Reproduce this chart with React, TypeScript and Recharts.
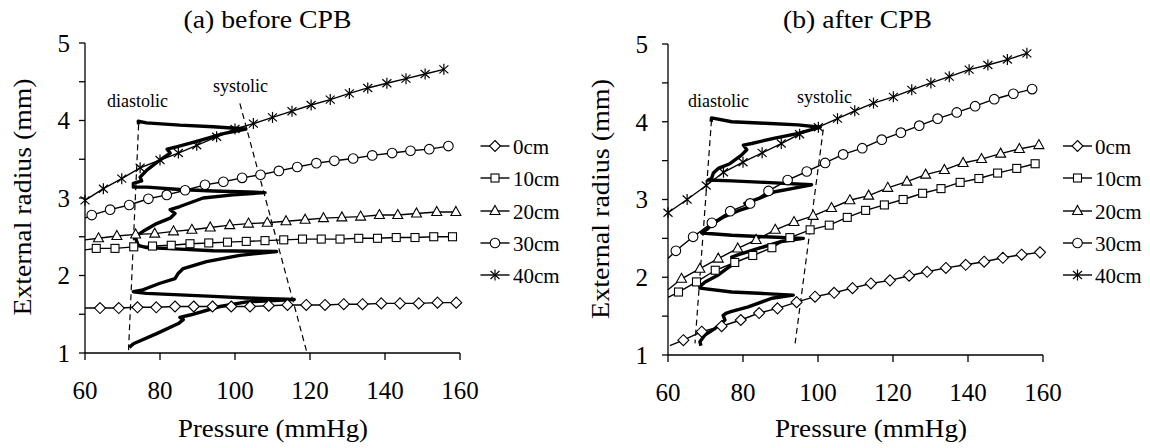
import React from "react";
import { LineChart, Line, XAxis, YAxis } from "recharts";

const FONT = "Liberation Serif, Times New Roman, serif";

const seriesNames = ["0cm", "10cm", "20cm", "30cm", "40cm"];
const shapes = ["diamond", "square", "triangle", "circle", "star"];
const xTicks = [60, 80, 100, 120, 140, 160];
const yTicks = [1, 1.5, 2, 2.5, 3, 3.5, 4, 4.5, 5];

// (a) before CPB
const presA0 = [64, 69, 74, 79, 84, 89, 94, 99, 104, 109, 114, 119, 124, 129, 134, 139, 144, 149, 154, 159];
const radA0 = [1.58, 1.58, 1.59, 1.59, 1.6, 1.6, 1.6, 1.6, 1.6, 1.61, 1.62, 1.62, 1.62, 1.63, 1.63, 1.64, 1.64, 1.64, 1.65, 1.65];
const presA10 = [63, 68, 73, 78, 83, 88, 93, 98, 103, 108, 113, 118, 123, 128, 133, 138, 143, 148, 153, 158];
const radA10 = [2.35, 2.35, 2.37, 2.38, 2.39, 2.41, 2.42, 2.43, 2.44, 2.45, 2.46, 2.47, 2.47, 2.47, 2.48, 2.48, 2.49, 2.49, 2.5, 2.5];
const presA20 = [63.6, 68.5, 73.5, 78.6, 83.6, 88.5, 93.4, 98.6, 103.6, 108.6, 113.6, 118.7, 123.6, 128.5, 133.5, 138.5, 143.4, 148.4, 153.8, 158.9];
const radA20 = [2.48, 2.51, 2.53, 2.54, 2.57, 2.59, 2.62, 2.65, 2.67, 2.68, 2.7, 2.72, 2.74, 2.75, 2.76, 2.78, 2.78, 2.8, 2.82, 2.82];
const presA30 = [61.8, 66.7, 71.8, 76.9, 81.8, 86.7, 92, 96.9, 101.9, 106.8, 111.7, 116.6, 121.7, 126.5, 131.5, 136.6, 141.9, 146.8, 151.8, 156.9];
const radA30 = [2.78, 2.85, 2.91, 2.99, 3.04, 3.1, 3.17, 3.21, 3.26, 3.3, 3.35, 3.4, 3.45, 3.48, 3.51, 3.55, 3.58, 3.61, 3.63, 3.67];
const presA40 = [60, 64.9, 69.8, 74.7, 80, 84.9, 89.8, 95.1, 100, 104.9, 110, 115.2, 120.3, 125.4, 130.5, 135.4, 140.5, 145.6, 150.7, 155.7];
const radA40 = [2.97, 3.12, 3.25, 3.39, 3.49, 3.58, 3.68, 3.79, 3.89, 3.96, 4.04, 4.12, 4.2, 4.27, 4.35, 4.42, 4.48, 4.54, 4.6, 4.66];
// where each line meets the y axis (no marker there)
const leadA: (number[] | null)[] = [[60, 1.58], [60, 2.33], [60, 2.46], [60, 2.74], null];

const loopPresA = [
  74.3, 74.2, 76.4, 85.3, 94.2, 102.9, 96.9, 89.8, 84.4, 81.9, 82.7, 80, 76.5, 74.7, 75.1,
  72.9, 72.9, 76.5, 85.3, 94.2, 108, 99.5, 91.5, 85.3, 82.7, 84, 82.7, 79.1, 75.5, 73.3, 73.8, 74.2,
  76.4, 85.3, 94.2, 111.1, 101.3, 92.4, 86.2, 84.9, 84, 80, 75.1, 72.9,
  76.4, 85.3, 94.2, 103.1, 115.8, 103.1, 96, 88, 85.3, 86.2, 84.9, 79.1, 72.9, 71.8,
];
const loopRadA = [
  3.95, 3.99, 3.97, 3.94, 3.92, 3.89, 3.83, 3.73, 3.66, 3.63, 3.58, 3.49, 3.36, 3.27, 3.22,
  3.19, 3.14, 3.14, 3.11, 3.09, 3.07, 3.04, 3.0, 2.89, 2.85, 2.8, 2.74, 2.67, 2.57, 2.5, 2.44, 2.39,
  2.36, 2.34, 2.32, 2.31, 2.26, 2.18, 2.09, 2.03, 1.96, 1.9, 1.81, 1.79,
  1.77, 1.75, 1.73, 1.71, 1.69, 1.66, 1.6, 1.49, 1.46, 1.43, 1.38, 1.25, 1.12, 1.07,
];
const diaPresA = [74.3, 71.6];
const diaRadA = [3.95, 1.03];
const sysPresA = [101.3, 119.1];
const sysRadA = [4.22, 1.02];

// (b) after CPB
const presB0 = [64.1, 69, 74.3, 79.4, 84.3, 89.2, 94.3, 99.2, 104.3, 109.2, 114.1, 119.2, 124.3, 129.1, 134.1, 139.4, 144.3, 149.3, 154.3, 159.2];
const radB0 = [1.19, 1.3, 1.37, 1.45, 1.54, 1.6, 1.68, 1.75, 1.8, 1.86, 1.92, 1.96, 2.02, 2.07, 2.12, 2.16, 2.2, 2.25, 2.29, 2.32];
const presB10 = [62.8, 67.6, 72.6, 77.8, 82.6, 87.7, 92.5, 97.9, 103, 107.8, 112.7, 117.7, 122.7, 127.9, 132.8, 137.9, 142.9, 147.9, 153, 157.9];
const radB10 = [1.81, 1.94, 2.09, 2.19, 2.28, 2.38, 2.51, 2.61, 2.67, 2.77, 2.86, 2.93, 3.0, 3.08, 3.14, 3.22, 3.27, 3.34, 3.4, 3.46];
const presB20 = [63.6, 68.5, 73.4, 78.6, 83.5, 88.6, 93.6, 98.7, 103.6, 108.5, 113.5, 118.6, 123.7, 128.7, 133.7, 138.7, 143.6, 148.7, 153.7, 158.9];
const radB20 = [1.98, 2.11, 2.24, 2.37, 2.48, 2.61, 2.71, 2.79, 2.89, 2.99, 3.05, 3.15, 3.23, 3.32, 3.38, 3.47, 3.52, 3.59, 3.65, 3.7];
const presB30 = [62.1, 66.7, 71.7, 76.6, 81.9, 86.8, 91.9, 97, 101.9, 106.7, 111.8, 117, 122.1, 127, 131.9, 137, 141.9, 147, 152.1, 157.1];
const radB30 = [2.34, 2.52, 2.7, 2.85, 2.95, 3.11, 3.25, 3.36, 3.47, 3.58, 3.66, 3.77, 3.86, 3.95, 4.04, 4.12, 4.2, 4.29, 4.36, 4.42];
const presB40 = [60, 65.1, 70.2, 74.8, 80, 85.1, 90.2, 95.1, 100.1, 105.2, 109.8, 114.8, 120.1, 125, 130.1, 135, 140.3, 145.3, 150.5, 155.7];
const radB40 = [2.83, 3.0, 3.18, 3.35, 3.48, 3.6, 3.72, 3.84, 3.93, 4.04, 4.14, 4.24, 4.32, 4.41, 4.5, 4.58, 4.67, 4.73, 4.8, 4.88];
const leadB: (number[] | null)[] = [[60.5, 1.12], [60, 1.74], [60, 1.84], [60, 2.24], null];

const loopPresB = [
  71.5, 71.6, 77, 85.9, 94.7, 100.6, 94.8, 88.5, 82.3, 80.1, 81, 79.6, 76.5, 73.4, 72.1, 71.6,
  70.7, 77, 85.9, 98.3, 93, 88.5, 84.1, 80.5, 81.5, 79, 75, 72, 70.5,
  69, 77, 85.9, 96.1, 90.3, 84.1, 78.8, 77, 77.9, 76.5, 73.4, 69.9, 68.5,
  68.5, 77, 85.9, 93.4, 87.7, 81.4, 77, 75.6, 74.7, 75.2, 72.5, 69.9, 68.5, 68.8,
];
const loopRadB = [
  4.0, 4.05, 4.0, 3.98, 3.96, 3.93, 3.85, 3.79, 3.72, 3.7, 3.64, 3.57, 3.46, 3.4, 3.34, 3.27,
  3.25, 3.24, 3.22, 3.19, 3.14, 3.1, 3.01, 2.95, 2.9, 2.86, 2.78, 2.69, 2.62,
  2.57, 2.54, 2.52, 2.5, 2.46, 2.37, 2.29, 2.26, 2.18, 2.14, 2.03, 1.94, 1.88,
  1.86, 1.81, 1.79, 1.77, 1.73, 1.62, 1.56, 1.54, 1.51, 1.45, 1.34, 1.26, 1.17, 1.12,
];
const diaPresB = [71.6, 67.2];
const diaRadB = [4.02, 1.15];
const sysPresB = [101.4, 93.9];
const sysRadB = [3.9, 1.15];

const toPts = (p: number[], r: number[], lead?: number[] | null) => [
  ...(lead ? [{ p: lead[0], r: lead[1], lead: true }] : []),
  ...p.map((x, i) => ({ p: x, r: r[i] })),
];

function Marker({ shape, cx, cy }: { shape: string; cx: number; cy: number }) {
  const st = { fill: "#fff", stroke: "#000", strokeWidth: 1.1 };
  if (shape === "diamond")
    return <polygon points={`${cx},${cy - 5.5} ${cx + 5.5},${cy} ${cx},${cy + 5.5} ${cx - 5.5},${cy}`} {...st} />;
  if (shape === "square") return <rect x={cx - 4} y={cy - 4} width={8} height={8} {...st} />;
  if (shape === "triangle")
    return <polygon points={`${cx},${cy - 5.5} ${cx + 5},${cy + 3.5} ${cx - 5},${cy + 3.5}`} {...st} />;
  if (shape === "circle") return <circle cx={cx} cy={cy} r={4.8} {...st} />;
  return (
    <g stroke="#000" strokeWidth={1.2}>
      <line x1={cx} y1={cy - 5.5} x2={cx} y2={cy + 5.5} />
      <line x1={cx - 4.5} y1={cy - 4} x2={cx + 4.5} y2={cy + 4} />
      <line x1={cx - 4.5} y1={cy + 4} x2={cx + 4.5} y2={cy - 4} />
    </g>
  );
}

const dotFor = (shape: string, id: string) => (props: any) => {
  const { cx, cy, index, payload } = props;
  if (payload?.lead || cx == null || cy == null) return <g key={`${id}-${index}`} />;
  return (
    <g key={`${id}-${index}`}>
      <Marker shape={shape} cx={cx} cy={cy} />
    </g>
  );
};

interface PanelProps {
  id: string;
  pres: number[][];
  rad: number[][];
  lead: (number[] | null)[];
  loop: { p: number; r: number }[];
  dia: { p: number; r: number }[];
  sys: { p: number; r: number }[];
  margin: { top: number; right: number; bottom: number; left: number };
  yTickMargin: number;
}

const tickStyle = { fill: "#000", fontSize: 25, fontFamily: FONT, style: { fontFamily: FONT } };

function Panel({ id, pres, rad, lead, loop, dia, sys, margin, yTickMargin }: PanelProps) {
  const axisStyle = { stroke: "#000", strokeWidth: 1.3 };
  return (
    <LineChart width={575} height={448} margin={margin} style={{ fontFamily: FONT }}>
      <XAxis
        type="number"
        dataKey="p"
        domain={[60, 160]}
        ticks={xTicks}
        interval={0}
        tickSize={7}
        tickMargin={21}
        height={30}
        axisLine={axisStyle}
        tickLine={axisStyle}
        tick={tickStyle}
      />
      <YAxis
        type="number"
        domain={[1, 5]}
        ticks={yTicks}
        interval={0}
        tickFormatter={(v: number) => (Number.isInteger(v) ? String(v) : "")}
        tickSize={6}
        tickMargin={yTickMargin}
        width={60}
        axisLine={axisStyle}
        tickLine={axisStyle}
        tick={tickStyle}
      />
      {shapes.map((s, i) => (
        <Line
          key={`${id}-${s}`}
          data={toPts(pres[i], rad[i], lead[i])}
          dataKey="r"
          type="linear"
          stroke="#000"
          strokeWidth={1.4}
          dot={dotFor(s, `${id}-${s}`)}
          activeDot={false}
          legendType="none"
          isAnimationActive={false}
        />
      ))}
      <Line data={dia} dataKey="r" type="linear" stroke="#000" strokeWidth={1.2} strokeDasharray="6 4" dot={false} activeDot={false} isAnimationActive={false} />
      <Line data={sys} dataKey="r" type="linear" stroke="#000" strokeWidth={1.2} strokeDasharray="6 4" dot={false} activeDot={false} isAnimationActive={false} />
      <Line
        data={loop}
        dataKey="r"
        type="linear"
        stroke="#000"
        strokeWidth={3.4}
        strokeLinejoin="round"
        dot={false}
        activeDot={false}
        isAnimationActive={false}
      />
    </LineChart>
  );
}

const zip = (p: number[], r: number[]) => p.map((x, i) => ({ p: x, r: r[i] }));

function Legend({ x, textX }: { x: number; textX: number }) {
  const rows = [146, 178, 211, 243, 275];
  return (
    <g>
      {seriesNames.map((n, i) => (
        <g key={n}>
          <line x1={x - 14.5} x2={x + 14.5} y1={rows[i]} y2={rows[i]} stroke="#000" strokeWidth={1.4} />
          <Marker shape={shapes[i]} cx={x} cy={rows[i]} />
          <text x={textX} y={rows[i] + 7.5} fontSize={21} style={{ fontFamily: FONT }} fill="#000">
            {n}
          </text>
        </g>
      ))}
    </g>
  );
}

export default function App() {
  const txt = { style: { fontFamily: FONT }, fill: "#000" };
  return (
    <div style={{ position: "absolute", left: 0, top: 0, width: 1150, height: 448, background: "#fff", fontFamily: FONT }}>
      <div style={{ position: "absolute", left: 0, top: 0 }}>
        <Panel
          id="a"
          pres={[presA0, presA10, presA20, presA30, presA40]}
          rad={[radA0, radA10, radA20, radA30, radA40]}
          lead={leadA}
          loop={zip(loopPresA, loopRadA)}
          dia={zip(diaPresA, diaRadA)}
          sys={zip(sysPresA, sysRadA)}
          margin={{ top: 43, right: 115, bottom: 65, left: 25 }}
          yTickMargin={9}
        />
      </div>
      <div style={{ position: "absolute", left: 575, top: 0 }}>
        <Panel
          id="b"
          pres={[presB0, presB10, presB20, presB30, presB40]}
          rad={[radB0, radB10, radB20, radB30, radB40]}
          lead={leadB}
          loop={zip(loopPresB, loopRadB)}
          dia={zip(diaPresB, diaRadB)}
          sys={zip(sysPresB, sysRadB)}
          margin={{ top: 44, right: 107, bottom: 63, left: 33 }}
          yTickMargin={14}
        />
      </div>
      <svg width={1150} height={448} style={{ position: "absolute", left: 0, top: 0, pointerEvents: "none" }}>
        <text x={267.5} y={28} textAnchor="middle" fontSize={25} textLength={168} lengthAdjust="spacingAndGlyphs" {...txt}>
          (a) before CPB
        </text>
        <text x={857.5} y={28} textAnchor="middle" fontSize={25} textLength={149} lengthAdjust="spacingAndGlyphs" {...txt}>
          (b) after CPB
        </text>
        <text x={273} y={437} textAnchor="middle" fontSize={26} textLength={190} lengthAdjust="spacingAndGlyphs" {...txt}>
          Pressure (mmHg)
        </text>
        <text x={871} y={437} textAnchor="middle" fontSize={26} textLength={192} lengthAdjust="spacingAndGlyphs" {...txt}>
          Pressure (mmHg)
        </text>
        <text x={31} y={197} transform="rotate(-90 31 197)" textAnchor="middle" fontSize={26} textLength={237} lengthAdjust="spacingAndGlyphs" {...txt}>
          External radius (mm)
        </text>
        <text x={609} y={199} transform="rotate(-90 609 199)" textAnchor="middle" fontSize={26} textLength={240} lengthAdjust="spacingAndGlyphs" {...txt}>
          External radius (mm)
        </text>
        <text x={107} y={107} fontSize={18} {...txt}>diastolic</text>
        <text x={213} y={92} fontSize={18} {...txt}>systolic</text>
        <text x={688} y={107} fontSize={18} {...txt}>diastolic</text>
        <text x={797} y={103} fontSize={18} {...txt}>systolic</text>
        <Legend x={495} textX={513} />
        <Legend x={1077.5} textX={1095} />
      </svg>
    </div>
  );
}
